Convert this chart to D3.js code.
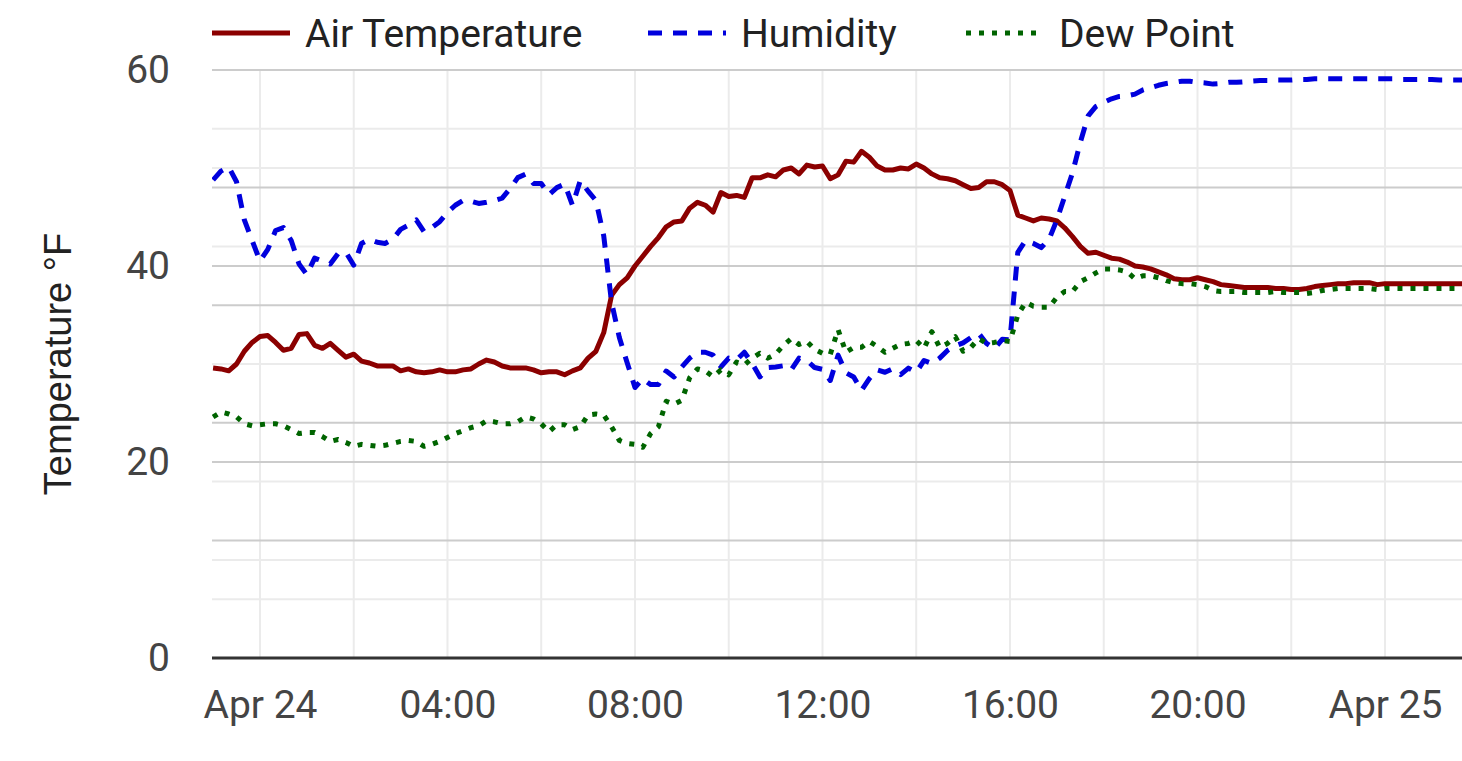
<!DOCTYPE html>
<html>
<head>
<meta charset="UTF-8">
<title>Temperature</title>
<script src="https://d3js.org/d3.v7.min.js"></script>
<style>
  body { margin: 0; background: #fff; }
  svg { display: block; }
  .tick text { font-family: Roboto, sans-serif; font-size: 39px; fill: #444; }
  .legend text { font-family: Roboto, sans-serif; font-size: 39px; fill: #222; }
</style>
</head>
<body>
<div id="chart"></div>
<script>
// readings every 10 minutes, from 23:00 Apr 23 to 01:40 Apr 25
const times = [
  "04-23 23:00","04-23 23:10","04-23 23:20","04-23 23:30","04-23 23:40","04-23 23:50",
  "04-24 00:00","04-24 00:10","04-24 00:20","04-24 00:30","04-24 00:40","04-24 00:50",
  "04-24 01:00","04-24 01:10","04-24 01:20","04-24 01:30","04-24 01:40","04-24 01:50",
  "04-24 02:00","04-24 02:10","04-24 02:20","04-24 02:30","04-24 02:40","04-24 02:50",
  "04-24 03:00","04-24 03:10","04-24 03:20","04-24 03:30","04-24 03:40","04-24 03:50",
  "04-24 04:00","04-24 04:10","04-24 04:20","04-24 04:30","04-24 04:40","04-24 04:50",
  "04-24 05:00","04-24 05:10","04-24 05:20","04-24 05:30","04-24 05:40","04-24 05:50",
  "04-24 06:00","04-24 06:10","04-24 06:20","04-24 06:30","04-24 06:40","04-24 06:50",
  "04-24 07:00","04-24 07:10","04-24 07:20","04-24 07:30","04-24 07:40","04-24 07:50",
  "04-24 08:00","04-24 08:10","04-24 08:20","04-24 08:30","04-24 08:40","04-24 08:50",
  "04-24 09:00","04-24 09:10","04-24 09:20","04-24 09:30","04-24 09:40","04-24 09:50",
  "04-24 10:00","04-24 10:10","04-24 10:20","04-24 10:30","04-24 10:40","04-24 10:50",
  "04-24 11:00","04-24 11:10","04-24 11:20","04-24 11:30","04-24 11:40","04-24 11:50",
  "04-24 12:00","04-24 12:10","04-24 12:20","04-24 12:30","04-24 12:40","04-24 12:50",
  "04-24 13:00","04-24 13:10","04-24 13:20","04-24 13:30","04-24 13:40","04-24 13:50",
  "04-24 14:00","04-24 14:10","04-24 14:20","04-24 14:30","04-24 14:40","04-24 14:50",
  "04-24 15:00","04-24 15:10","04-24 15:20","04-24 15:30","04-24 15:40","04-24 15:50",
  "04-24 16:00","04-24 16:10","04-24 16:20","04-24 16:30","04-24 16:40","04-24 16:50",
  "04-24 17:00","04-24 17:10","04-24 17:20","04-24 17:30","04-24 17:40","04-24 17:50",
  "04-24 18:00","04-24 18:10","04-24 18:20","04-24 18:30","04-24 18:40","04-24 18:50",
  "04-24 19:00","04-24 19:10","04-24 19:20","04-24 19:30","04-24 19:40","04-24 19:50",
  "04-24 20:00","04-24 20:10","04-24 20:20","04-24 20:30","04-24 20:40","04-24 20:50",
  "04-24 21:00","04-24 21:10","04-24 21:20","04-24 21:30","04-24 21:40","04-24 21:50",
  "04-24 22:00","04-24 22:10","04-24 22:20","04-24 22:30","04-24 22:40","04-24 22:50",
  "04-24 23:00","04-24 23:10","04-24 23:20","04-24 23:30","04-24 23:40","04-24 23:50",
  "04-25 00:00","04-25 00:10","04-25 00:20","04-25 00:30","04-25 00:40","04-25 00:50",
  "04-25 01:00","04-25 01:10","04-25 01:20","04-25 01:30","04-25 01:40"
];

// °F
const airTemp = [
  29.6, 29.5, 29.3, 30.0, 31.3, 32.2,
  32.8, 32.9, 32.2, 31.4, 31.6, 33.0,
  33.1, 31.9, 31.6, 32.1, 31.4, 30.7,
  31.0, 30.3, 30.1, 29.8, 29.8, 29.8,
  29.3, 29.5, 29.2, 29.1, 29.2, 29.4,
  29.2, 29.2, 29.4, 29.5, 30.0, 30.4,
  30.2, 29.8, 29.6, 29.6, 29.6, 29.4,
  29.1, 29.2, 29.2, 28.9, 29.3, 29.6,
  30.6, 31.3, 33.2, 37.0, 38.1, 38.8,
  40.0, 41.0, 42.0, 42.9, 44.0, 44.5,
  44.6, 45.9, 46.5, 46.2, 45.5, 47.5,
  47.1, 47.2, 47.0, 49.0, 49.0, 49.3,
  49.1, 49.8, 50.0, 49.4, 50.3, 50.1,
  50.2, 48.9, 49.3, 50.7, 50.6, 51.7,
  51.1, 50.2, 49.8, 49.8, 50.0, 49.9,
  50.4, 50.0, 49.4, 49.0, 48.9, 48.7,
  48.3, 47.9, 48.0, 48.6, 48.6, 48.3,
  47.7, 45.2, 44.9, 44.6, 44.9, 44.8,
  44.6, 43.9, 43.0, 42.0, 41.3, 41.4,
  41.1, 40.8, 40.7, 40.4, 40.0, 39.9,
  39.7, 39.4, 39.1, 38.7, 38.6, 38.6,
  38.8, 38.6, 38.4, 38.1, 38.0, 37.9,
  37.8, 37.8, 37.8, 37.8, 37.7, 37.7,
  37.6, 37.6, 37.7, 37.9, 38.0, 38.1,
  38.2, 38.2, 38.3, 38.3, 38.3, 38.1,
  38.2, 38.2, 38.2, 38.2, 38.2, 38.2,
  38.2, 38.2, 38.2, 38.2, 38.2
];

// % relative humidity (hidden right axis, 0-100)
const humidity = [
  81.3, 82.8, 83.5, 81.0, 74.5, 71.0,
  67.5, 69.5, 72.7, 73.2, 71.0, 67.0,
  65.2, 68.0, 67.5, 67.0, 68.8, 69.0,
  66.8, 70.5, 71.2, 70.7, 70.5, 71.2,
  72.9, 73.6, 74.5, 72.5, 73.2, 74.2,
  75.8, 77.0, 77.8, 77.7, 77.3, 77.5,
  77.8, 78.2, 79.8, 81.7, 82.3, 80.7,
  80.7, 78.8, 80.0, 80.6, 77.0, 81.2,
  79.4, 77.8, 71.8, 60.5, 54.5, 50.2,
  46.0, 47.5, 46.5, 46.5, 48.8, 47.8,
  49.5, 51.0, 52.0, 52.0, 51.5, 49.5,
  51.0, 50.7, 52.0, 50.1, 47.8, 49.4,
  49.5, 49.7, 49.0, 51.0, 50.6, 49.4,
  49.1, 47.2, 51.5, 48.5, 47.8, 45.5,
  47.5, 49.0, 48.6, 49.2, 48.2, 49.3,
  48.6, 50.6, 50.1, 51.0, 52.3, 53.1,
  53.6, 54.5, 55.2, 53.5, 52.6, 54.2,
  54.1, 69.0, 71.0, 70.5, 69.8, 71.2,
  74.5, 78.5, 82.5, 87.7, 92.2, 93.8,
  94.5, 95.1, 95.5, 95.6, 95.9, 96.6,
  97.0, 97.4, 97.7, 97.9, 98.1, 98.1,
  97.9, 97.8, 97.6, 97.7, 97.9, 97.9,
  98.0, 98.1, 98.2, 98.2, 98.3, 98.3,
  98.3, 98.4, 98.4, 98.5, 98.5, 98.5,
  98.5, 98.5, 98.5, 98.5, 98.5, 98.5,
  98.5, 98.5, 98.4, 98.4, 98.4, 98.4,
  98.4, 98.3, 98.3, 98.3, 98.3
];

// °F
const dewPoint = [
  24.6, 25.1, 24.9, 24.6, 23.9, 23.7,
  23.8, 23.9, 23.9, 23.7, 23.3, 22.9,
  23.0, 23.0, 22.6, 22.1, 22.3, 22.0,
  21.6, 21.8, 21.7, 21.6, 21.7, 21.9,
  22.1, 22.2, 22.1, 21.6, 21.8, 22.1,
  22.5, 22.9, 23.2, 23.5, 23.7, 24.2,
  24.1, 23.9, 23.9, 24.1, 24.6, 24.4,
  23.9, 23.1, 23.8, 23.8, 23.3, 23.6,
  24.8, 24.9, 24.8, 23.6, 22.2, 21.9,
  21.8, 21.5, 22.9, 23.6, 26.2, 25.9,
  26.3, 28.6, 29.5, 29.3, 28.7, 29.4,
  28.9, 30.2, 29.9, 30.6, 31.1, 30.6,
  31.0, 31.9, 32.6, 32.0, 32.3, 31.5,
  31.1, 31.0, 33.5, 31.2, 31.7, 31.7,
  32.3, 31.8, 31.2, 31.6, 32.0, 32.1,
  32.4, 31.6, 33.3, 31.7, 32.1, 32.8,
  31.3, 31.7, 32.6, 32.1, 32.2, 32.4,
  32.3, 35.0, 36.3, 35.9, 35.8, 35.8,
  36.8, 37.4, 37.4, 38.4, 38.8, 39.3,
  39.7, 39.7, 39.6, 39.4, 38.7, 39.0,
  39.0, 38.8, 38.5, 38.3, 38.2, 38.2,
  38.1, 37.9, 37.5, 37.4, 37.4, 37.4,
  37.3, 37.3, 37.3, 37.3, 37.4, 37.3,
  37.3, 37.3, 37.2, 37.3, 37.5, 37.6,
  37.7, 37.7, 37.7, 37.7, 37.7, 37.6,
  37.7, 37.7, 37.7, 37.7, 37.7, 37.7,
  37.7, 37.7, 37.7, 37.7, 37.7
];

const seriesNames = ["Air Temperature", "Humidity", "Dew Point"];
const xExtent = ["04-23 22:58:36", "04-25 01:38:34"];
const xTicks = ["04-24 00:00", "04-24 04:00", "04-24 08:00", "04-24 12:00", "04-24 16:00", "04-24 20:00", "04-25 00:00"];
const xTickLabels = ["Apr 24", "04:00", "08:00", "12:00", "16:00", "20:00", "Apr 25"];
const tempTicks = [0, 20, 40, 60];
const tempMinor = [10, 30, 50];
const humMajor = [20, 40, 60, 80, 100];
const humMinor = [10, 30, 50, 70, 90];

const width = 1462, height = 761;
const plotLeft = 212, plotRight = 1462, plotTop = 70, plotBottom = 658;

const parse = d3.utcParse("%m-%d %H:%M");
const parseS = d3.utcParse("%m-%d %H:%M:%S");
const dates = times.map(parse);

const svg = d3.select("#chart").append("svg")
  .attr("width", width)
  .attr("height", height);

const x = d3.scaleUtc()
  .domain(xExtent.map(parseS))
  .range([plotLeft, plotRight]);

const yTemp = d3.scaleLinear().domain([0, 60]).range([plotBottom, plotTop]);
const yHum = d3.scaleLinear().domain([0, 100]).range([plotBottom, plotTop]);

// grid
const grid = svg.append("g");
grid.selectAll(".vgrid")
  .data(x.ticks(d3.utcHour.every(2)))
  .join("line")
  .attr("x1", d => x(d)).attr("x2", d => x(d))
  .attr("y1", plotTop).attr("y2", plotBottom)
  .attr("stroke", "#ebebeb").attr("stroke-width", 2);

const hline = (vals, scale, color) => grid.append("g").selectAll("line")
  .data(vals)
  .join("line")
  .attr("x1", plotLeft).attr("x2", plotRight)
  .attr("y1", d => scale(d)).attr("y2", d => scale(d))
  .attr("stroke", color).attr("stroke-width", 2);

hline(tempMinor, yTemp, "#ebebeb");
hline(humMinor, yHum, "#ebebeb");
hline(tempTicks.slice(1), yTemp, "#cccccc");
hline(humMajor, yHum, "#cccccc");

// axes
svg.append("g")
  .attr("transform", `translate(${plotLeft},0)`)
  .call(d3.axisLeft(yTemp).tickValues(tempTicks).tickSize(0).tickPadding(42))
  .call(g => g.select(".domain").remove());

svg.append("g")
  .attr("transform", `translate(0,${plotBottom})`)
  .call(d3.axisBottom(x)
    .tickValues(xTicks.map(parse))
    .tickFormat((d, i) => xTickLabels[i])
    .tickSize(0).tickPadding(32))
  .call(g => g.select(".domain").remove());

svg.append("line")
  .attr("x1", plotLeft).attr("x2", plotRight)
  .attr("y1", plotBottom).attr("y2", plotBottom)
  .attr("stroke", "#333").attr("stroke-width", 3);

svg.append("text")
  .attr("transform", "translate(71,364) rotate(-90)")
  .attr("text-anchor", "middle")
  .style("font-family", "'Liberation Sans', Arial, sans-serif")
  .style("font-size", "38px")
  .style("fill", "#222")
  .text("Temperature °F");

// lines
svg.append("clipPath").attr("id", "plot")
  .append("rect").attr("x", plotLeft).attr("y", 0).attr("width", plotRight - plotLeft).attr("height", plotBottom + 10);

const styles = [
  { color: "#8b0000", dash: null },
  { color: "#0000dd", dash: "14,11" },
  { color: "#006400", dash: "5,8" }
];
const values = [airTemp, humidity, dewPoint];
const scales = [yTemp, yHum, yTemp];

const plot = svg.append("g").attr("clip-path", "url(#plot)");
values.forEach((vals, k) => {
  const line = d3.line()
    .x((d, i) => x(dates[i]))
    .y(d => scales[k](d));
  plot.append("path")
    .datum(vals)
    .attr("d", line)
    .attr("fill", "none")
    .attr("stroke", styles[k].color)
    .attr("stroke-width", 5)
    .attr("stroke-linejoin", "round")
    .attr("stroke-dasharray", styles[k].dash);
});

// legend
const legendX = [212, 648, 966];
const legend = svg.append("g").attr("class", "legend");
seriesNames.forEach((name, k) => {
  legend.append("line")
    .attr("x1", legendX[k]).attr("x2", legendX[k] + 78)
    .attr("y1", 33).attr("y2", 33)
    .attr("stroke", styles[k].color)
    .attr("stroke-width", 5)
    .attr("stroke-dasharray", styles[k].dash);
  legend.append("text")
    .attr("x", legendX[k] + 93)
    .attr("y", 47)
    .text(name);
});
</script>
</body>
</html>
